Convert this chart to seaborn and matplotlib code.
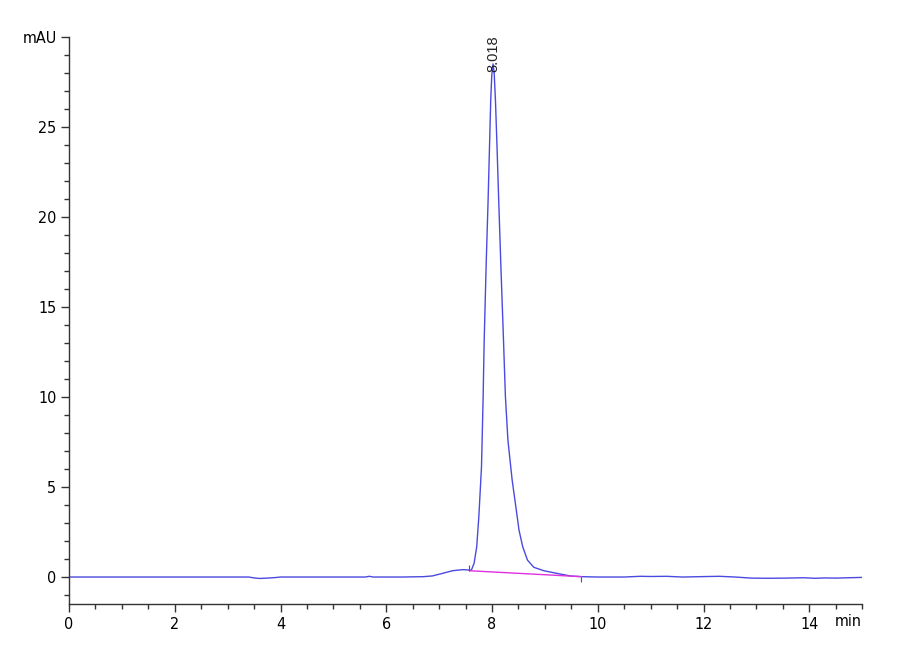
import seaborn as sns
import matplotlib.pyplot as plt
from matplotlib.ticker import MultipleLocator

# retention time (min) and absorbance (mAU)
rt = [0.0, 1.0, 2.0, 3.0, 3.4, 3.5, 3.6, 3.75, 3.9, 4.0, 4.5, 5.0, 5.6, 5.68, 5.75,
      6.3, 6.7, 6.87, 7.06, 7.25, 7.44, 7.52, 7.57, 7.61, 7.66, 7.71, 7.75,
      7.80, 7.83, 7.85, 7.89, 7.925, 7.975, 7.995, 8.018, 8.04, 8.064, 8.095,
      8.126, 8.17, 8.21, 8.253, 8.30, 8.38, 8.45, 8.51, 8.58, 8.67, 8.79, 8.98,
      9.23, 9.48, 9.69, 10.0, 10.5, 10.8, 11.0, 11.3, 11.6, 12.1, 12.3, 12.6,
      12.9, 13.2, 13.55, 13.9, 14.1, 14.3, 14.5, 15.0]
mau = [0.0, 0.0, 0.0, 0.0, 0.0, -0.05, -0.08, -0.06, -0.03, 0.0, 0.0, 0.0, 0.0,
       0.04, 0.0, 0.0, 0.02, 0.06, 0.2, 0.35, 0.41, 0.4, 0.38, 0.39, 0.76, 1.68,
       3.35, 6.1, 9.8, 13.0, 17.5, 20.9, 26.5, 27.9, 28.5, 28.0, 26.5, 23.8,
       20.9, 17.0, 13.7, 10.0, 7.6, 5.39, 3.9, 2.6, 1.68, 0.94, 0.54, 0.35, 0.2,
       0.06, 0.02, 0.0, 0.0, 0.04, 0.03, 0.04, 0.0, 0.03, 0.04, 0.0, -0.06,
       -0.07, -0.06, -0.04, -0.07, -0.05, -0.06, -0.02]

# integration baseline of the main peak
base_rt = [7.57, 9.69]
base_mau = [0.35, 0.02]

peak_rt = 8.018
peak_mau = 28.5

sns.set_style('ticks')
plt.rcParams['font.family'] = ['DejaVu Sans']
plt.rcParams['font.stretch'] = 'condensed'

fig = plt.figure(figsize=(9, 6.6), dpi=100)
ax = fig.add_axes([0.0767, 0.0848, 0.8813, 0.8592])

sns.lineplot(x=rt, y=mau, sort=False, color='#4a4ae0', linewidth=1.0, ax=ax)
sns.lineplot(x=base_rt, y=base_mau, sort=False, color='#e030e0', linewidth=1.0, ax=ax)

# start / end markers of the integration
ax.vlines(base_rt[0], base_mau[0], base_mau[0] + 0.3, color='#555555', linewidth=0.8)
ax.vlines(base_rt[1], base_mau[1] - 0.27, base_mau[1], color='#555555', linewidth=0.8)

ax.text(peak_rt, peak_mau - 0.45, f'{peak_rt:.3f}', rotation=90, ha='center', va='bottom',
        fontsize=10.5, family=['Liberation Sans', 'DejaVu Sans'], fontstretch='normal',
        color='#222222')

ax.set_xlim(0, 15)
ax.set_ylim(-1.5, 30)
ax.xaxis.set_major_locator(MultipleLocator(2))
ax.xaxis.set_minor_locator(MultipleLocator(0.5))
ax.yaxis.set_minor_locator(MultipleLocator(1))
ax.set_yticks([0, 5, 10, 15, 20, 25, 30])
ax.set_yticklabels(['0', '5', '10', '15', '20', '25', 'mAU'])
ax.tick_params(which='major', length=6, width=1, color='#333333', labelsize=11.5,
               labelcolor='black', pad=3)
ax.tick_params(which='minor', length=3.5, width=1, color='#333333')
ax.text(15, -2.05, 'min', ha='right', va='top', fontsize=11.5, color='black')

sns.despine(ax=ax)
for side in ['left', 'bottom']:
    ax.spines[side].set_color('#333333')
    ax.spines[side].set_linewidth(1.0)
ax.set_xlabel('')
ax.set_ylabel('')

fig.savefig('out.png', dpi=100)
